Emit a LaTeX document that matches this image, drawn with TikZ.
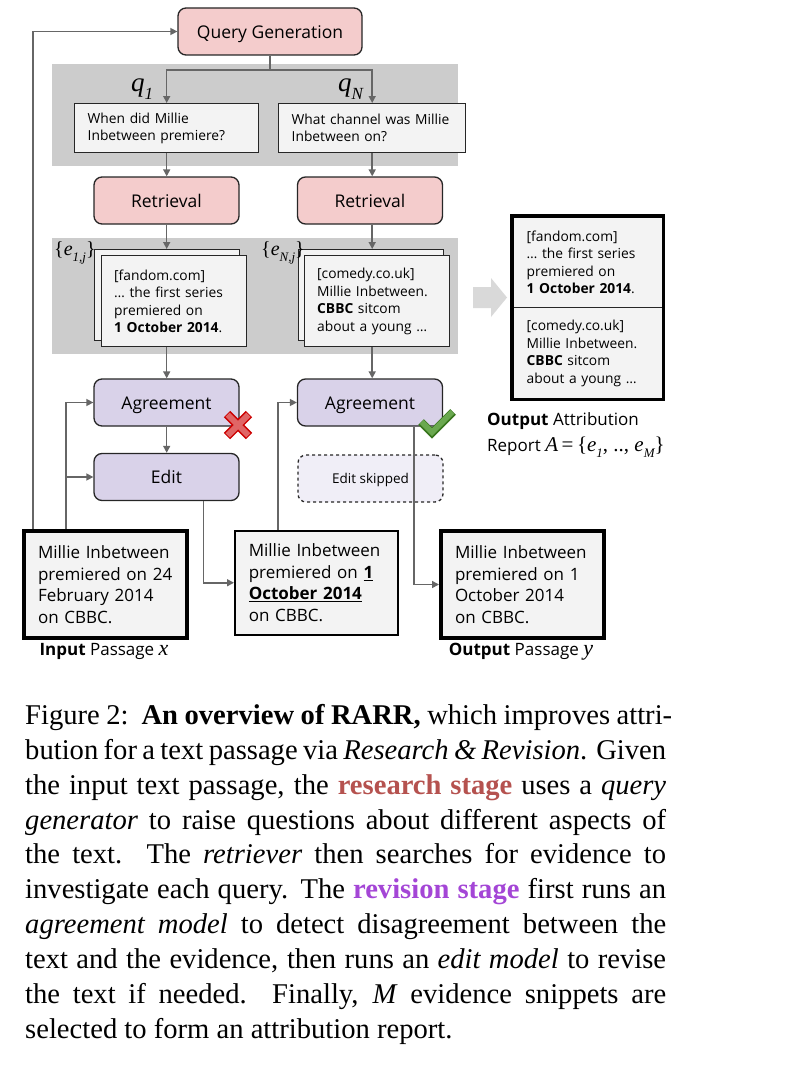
\documentclass[tikz,border=0pt]{standalone}
\usepackage{fontspec}
\setmainfont{Open Sans}
\newfontfamily\tms{Liberation Serif}
\usetikzlibrary{arrows.meta,calc}
\definecolor{pinkf}{HTML}{F4CCCC}
\definecolor{purf}{HTML}{D9D2E9}
\definecolor{boxf}{HTML}{F3F3F3}
\definecolor{panelc}{HTML}{CCCCCC}
\definecolor{arrc}{HTML}{666666}
\definecolor{skipf}{HTML}{F0EEF7}
\definecolor{resc}{HTML}{B5524F}
\definecolor{revc}{HTML}{A446D6}
\definecolor{xfill}{HTML}{E06666}
\definecolor{xline}{HTML}{CC0000}
\definecolor{cfill}{HTML}{6AA84F}
\definecolor{cline}{HTML}{38761D}
\definecolor{bigarr}{HTML}{D9D9D9}
\tikzset{
  stagebox/.style={draw=black!85, line width=1.3pt, rounded corners=8pt, minimum width=145pt, minimum height=47pt, inner sep=0pt, text height=13pt, text depth=0pt, font=\fontsize{17.5}{21}\selectfont},
  panelbox/.style={fill=panelc, draw=none, anchor=north west, inner sep=0pt},
  qbox/.style={draw=black!85, line width=1.4pt, fill=boxf, anchor=north west, minimum height=49pt, inner xsep=13pt, inner ysep=0pt, align=left, font=\fontsize{13.8}{17}\selectfont},
  evbox/.style={draw=black!85, line width=1.4pt, fill=boxf, anchor=north west, minimum width=145pt, minimum height=91pt, text width=120pt, inner xsep=12pt, inner ysep=0pt, align=left, font=\fontsize{13.8}{17.5}\selectfont},
  passbox/.style={fill=boxf, draw=black, anchor=north west, minimum width=163pt, minimum height=107pt, text width=135pt, inner xsep=14pt, inner ysep=0pt, align=left, font=\fontsize{17}{21.5}\selectfont},
  conn/.style={draw=arrc, line width=1.5pt, -{Triangle[length=7pt,width=7pt]}},
  plainline/.style={draw=arrc, line width=1.5pt},
  lab/.style={inner sep=0pt, font=\fontsize{17}{26}\selectfont},
  capline/.style={anchor=base west, inner sep=0pt, font=\tms\fontsize{28.6}{35}\selectfont},
}
\newcommand\capl[1]{\makebox[641pt][s]{#1}}
\begin{document}
\begin{tikzpicture}[x=1pt,y=-1pt]
\useasboundingbox (0,0) rectangle (798,1065);
% panels
\node[panelbox, minimum width=406pt, minimum height=102pt] (p1) at (52,64) {};
\node[panelbox, minimum width=406pt, minimum height=116pt] (p2) at (52,238) {};
% query generation
\node[stagebox, fill=pinkf, minimum width=184pt] (qg) at (270,31.5) {Query Generation};
% queries
\node[qbox, minimum width=184pt, text width=158pt] (q1) at (74,103) {When did Millie\\Inbetween premiere?};
\node[qbox, minimum width=187pt, text width=161pt] (q2) at (278,103) {What channel was Millie\\Inbetween on?};
\node[anchor=base west, inner sep=0pt, font=\tms\itshape\fontsize{27}{27}\selectfont] (lq1) at (131,92) {q\raisebox{-0.28em}{\fontsize{17}{17}\selectfont 1}};
\node[anchor=base west, inner sep=0pt, font=\tms\itshape\fontsize{27}{27}\selectfont] (lqn) at (338,92) {q\raisebox{-0.28em}{\fontsize{17}{17}\selectfont N}};
% retrieval
\node[stagebox, fill=pinkf] (r1) at (166.5,200.5) {Retrieval};
\node[stagebox, fill=pinkf] (r2) at (370,200.5) {Retrieval};
% evidence
\node[evbox] (eb1) at (94,249) {};
\node[evbox] (ef1) at (101,255) {[fandom.com]\\… the first series\\premiered on\\\textbf{1 October 2014}.};
\node[evbox] (eb2) at (298,249) {};
\node[evbox] (ef2) at (304,255) {[comedy.co.uk]\\Millie Inbetween.\\\textbf{CBBC} sitcom\\about a young …};
\node[anchor=base west, inner sep=0pt, font=\tms\fontsize{20}{20}\selectfont] (le1) at (54,255) {\{\textit{e}\raisebox{-0.3em}{\fontsize{13}{13}\selectfont\itshape 1,j}\}};
\node[anchor=base west, inner sep=0pt, font=\tms\fontsize{20}{20}\selectfont] (len) at (261,255) {\{\textit{e}\raisebox{-0.3em}{\fontsize{13}{13}\selectfont\itshape N,j}\}};
% agreement / edit
\node[stagebox, fill=purf] (a1) at (166.5,402.5) {Agreement};
\node[stagebox, fill=purf] (a2) at (370,402.5) {Agreement};
\node[stagebox, fill=purf] (e1) at (166.5,477) {Edit};
\node[stagebox, fill=skipf, dashed, line width=1.3pt, text height=10pt, font=\fontsize{13.5}{16}\selectfont] (s2) at (370.5,478.5) {Edit skipped};
% passages
\node[passbox, line width=4pt] (inp) at (22,529) {Millie Inbetween\\premiered on 24\\February 2014\\on CBBC.};
\node[passbox, line width=1.5pt, minimum width=162pt, minimum height=104pt] (mid) at (234,530) {Millie Inbetween\\premiered on \underline{\textbf{1}}\\\underline{\textbf{October 2014}}\\on CBBC.};
\node[passbox, line width=4pt] (out) at (439,529) {Millie Inbetween\\premiered on 1\\October 2014\\on CBBC.};
\node[lab, anchor=base] (linp) at (104,655) {\textbf{Input} Passage {\tms\itshape\fontsize{22}{22}\selectfont x}};
\node[lab, anchor=base] (lout) at (521,655) {\textbf{Output} Passage {\tms\itshape\fontsize{22}{22}\selectfont y}};
% report
\node[evbox, minimum width=147pt, text width=122pt, inner xsep=14pt] (rep1) at (512,216) {[fandom.com]\\… the first series\\premiered on\\\textbf{1 October 2014}.};
\node[evbox, minimum width=147pt, text width=122pt, inner xsep=14pt] (rep2) at (512,307) {[comedy.co.uk]\\Millie Inbetween.\\\textbf{CBBC} sitcom\\about a young …};
\draw[line width=3.5pt] (rep1.north west) rectangle (rep2.south east);
\node[lab, anchor=base west] (lrep1) at (487,425) {\textbf{Output} Attribution};
\node[lab, anchor=base west] (lrep2) at (487,451) {Report {\tms\fontsize{21}{21}\selectfont\textit{A}\,=\,\{\textit{e}\raisebox{-0.3em}{\fontsize{13}{13}\selectfont\itshape 1}, .., \textit{e}\raisebox{-0.3em}{\fontsize{13}{13}\selectfont\itshape M}\}}};
% big arrow
\fill[bigarr] (473,287) -- (491,287) -- (491,278) -- (507,297.5) -- (491,317) -- (491,308) -- (473,308) -- cycle;
% connectors
\coordinate (jq) at (270,70);
\draw[plainline] (qg.south) -- (jq);
\draw[conn] (jq) -| (q1.north);
\draw[conn] (jq) -| (q2.north);
\draw[conn] (q1.south) -- (q1.south |- r1.north);
\draw[conn] (q2.south) -- (q2.south |- r2.north);
\draw[conn] (q1.south |- r1.south) -- (q1.south |- eb1.north);
\draw[conn] (q2.south |- r2.south) -- (q2.south |- eb2.north);
\draw[conn] (q1.south |- ef1.south) -- (q1.south |- a1.north);
\draw[conn] (q2.south |- ef2.south) -- (q2.south |- a2.north);
\draw[conn] (q1.south |- a1.south) -- (q1.south |- e1.north);
\draw[conn] ([xshift=11pt]inp.north west) |- (qg.west);
\draw[conn] ([xshift=44pt]inp.north west) |- (a1.west);
\draw[conn] ([xshift=44pt]inp.north west) |- (e1.west);
\draw[conn] ([xshift=110pt]e1.south west) |- (mid.west);
\draw[conn] ([xshift=44pt]mid.north west) |- (a2.west);
\draw[conn] ([xshift=117pt]a2.south west) |- (out.west);
% red cross
\coordinate (xc) at (238,425);
\draw[xline, line width=9pt] ($(xc)+(-11,-11)$) -- ($(xc)+(11,11)$) ($(xc)+(-11,11)$) -- ($(xc)+(11,-11)$);
\draw[xfill, line width=6pt] ($(xc)+(-10.3,-10.3)$) -- ($(xc)+(10.3,10.3)$) ($(xc)+(-10.3,10.3)$) -- ($(xc)+(10.3,-10.3)$);
% green check
\draw[cline, line width=8pt, line join=miter] (421,422) -- (432,433) -- (453,412);
\draw[cfill, line width=5.5pt, line join=miter] (421.7,422) -- (432,432.3) -- (452.3,412);
% caption
\node[capline] (c1) at (25,724) {\makebox[647pt][s]{Figure 2:\ \ \textbf{An overview of RARR,} which improves attri-}};
\node[capline] (c2) at (25,759) {\capl{bution for a text passage via \textit{Research \& Revision}. Given}};
\node[capline] (c3) at (25,794) {\capl{the input text passage, the \textcolor{resc}{\textbf{research stage}} uses a \textit{query}}};
\node[capline] (c4) at (25,829) {\capl{\textit{generator} to raise questions about different aspects of}};
\node[capline] (c5) at (25,863) {\capl{the text.\ \ The \textit{retriever} then searches for evidence to}};
\node[capline] (c6) at (25,898) {\capl{investigate each query. The \textcolor{revc}{\textbf{revision stage}} first runs an}};
\node[capline] (c7) at (25,933) {\capl{\textit{agreement model} to detect disagreement between the}};
\node[capline] (c8) at (25,968) {\capl{text and the evidence, then runs an \textit{edit model} to revise}};
\node[capline] (c9) at (25,1003) {\capl{the text if needed.\ \ Finally, \textit{M} evidence snippets are}};
\node[capline] (c10) at (25,1038) {selected to form an attribution report.};
\end{tikzpicture}
\end{document}
